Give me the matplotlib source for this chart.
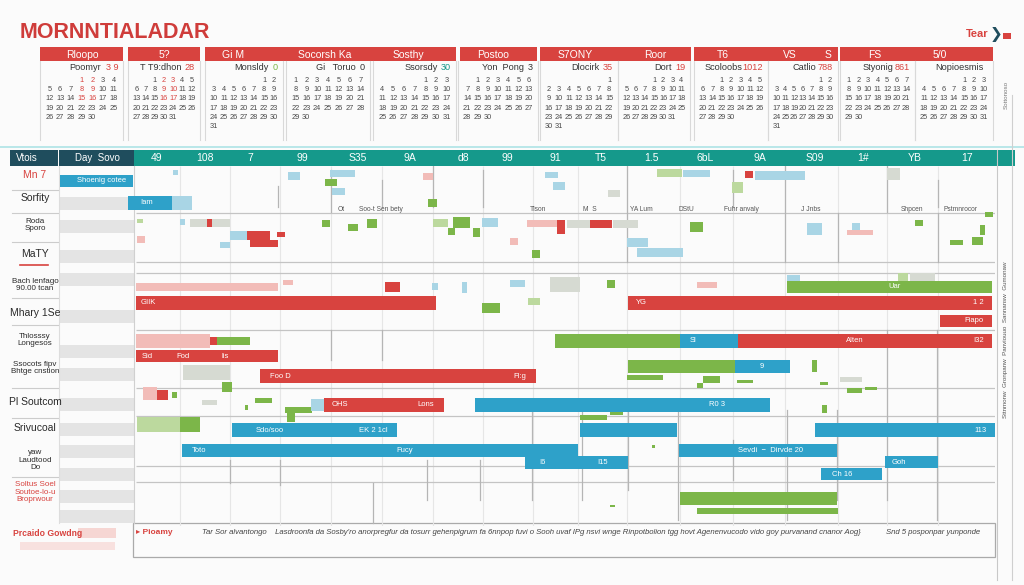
import numpy as np
import matplotlib
matplotlib.use("Agg")
import matplotlib.pyplot as plt
from matplotlib.patches import Rectangle

plt.rcParams['font.family'] = ['Liberation Sans', 'DejaVu Sans']

RED = '#d8433f'
BLUE = '#2ea1c9'
GREEN = '#7cb649'
TEAL = '#15998b'
NAVY = '#1f4d5d'
COLORS = {'r': RED, 'b': BLUE, 'g': GREEN,
          'lr': '#f2bcb8', 'lb': '#a9d5e5', 'lg': '#bcd99e', 'gy': '#d6dad2'}

# ---- data ----
title = "MORNNTIALADAR"

# calendar strip
head_text = ["Rloopo", "5?", "Gi M", "Socorsh Ka", "Sosthy", "Postoo", "S7ONY", "Roor",
             "T6", "VS", "S", "FS", "5/0"]
cal_names = ["Poomyr", "T T9:dhon", "Monsldy", "Gi   Toruo", "Ssorsdy", "Yon  Pong",
             "Dlocirk", "Dort", "Scoloobs", "Catlio", "Styonig", "Nopioesmis"]
cal_nums = ["3 9", "28", "0", "0", "30", "3", "35", "19", "1012", "788", "861", ""]
cal_first = [3, 2, 5, 0, 4, 1, 6, 3, 2, 5, 0, 4]
cal_days = [30, 31, 31, 30, 31, 30, 31, 31, 30, 31, 30, 31]

# column header of the timeline
col_labels = ["49", "108", "7", "99", "S35", "9A", "d8", "99", "91", "T5", "1.5", "6bL",
              "9A", "S09", "1#", "YB", "17"]
col_pos = [2.1, 6.9, 11.4, 16.6, 22.2, 27.4, 32.7, 37.1, 41.9, 46.5, 51.5, 56.9,
           62.4, 67.9, 72.7, 77.9, 83.1]

# row labels
row_labels = ["Mn 7", "Sorfity", "Roda\nSporo", "MaTY", "Bach lenfago\n90.00 tcan",
              "Mhary 1Se", "Thlosssy\nLongesos", "Ssocots fipv\nBhtge cnstion",
              "Pl Soutcom", "Srivucoal", "yaw\nLaudtood\nDo",
              "Soltus Soel\nSoutoe-lo-u\nBroprwour"]
row_lane = [0.9, 3.2, 5.9, 8.8, 11.9, 14.7, 17.4, 20.2, 23.6, 26.2, 29.4, 32.6]
row_color = ['r', 'k', 'k', 'k', 'k', 'k', 'k', 'k', 'k', 'k', 'k', 'r']

# main bars (lane centre, start, end, colour)
bar_lane = [1.5, 3.7, 3.7, 12.1, 12.1, 13.7, 13.7, 15.5, 17.5, 17.5, 17.5, 17.5, 19.0,
            20.0, 20.0, 21.0, 23.9, 23.9, 23.9, 26.4, 26.4, 26.4, 28.4, 28.4, 28.4,
            29.6, 29.6, 30.8, 33.2, 34.5]
bar_start = [-7.6, -0.8, 3.6, 0.0, 65.1, 0.0, 49.2, 80.4, 0.0, 41.9, 54.4, 60.2, 0.0,
             49.2, 59.9, 12.4, 17.5, 18.8, 33.9, 9.6, 44.4, 67.9, 4.6, 34.2, 54.3,
             38.9, 74.9, 68.5, 54.4, 56.1]
bar_end = [-0.3, 3.6, 5.6, 14.2, 85.6, 30.0, 85.6, 85.6, 7.4, 54.4, 60.2, 85.6, 14.2,
           59.9, 65.4, 40.0, 18.8, 30.8, 63.4, 26.1, 54.1, 85.9, 34.2, 44.2, 70.1,
           49.2, 80.2, 74.6, 70.1, 70.2]
bar_col = ['b', 'b', 'lb', 'lr', 'g', 'r', 'r', 'r', 'lr', 'g', 'b', 'r', 'r',
           'g', 'b', 'r', 'lb', 'r', 'b', 'b', 'b', 'b', 'b', 'b', 'b',
           'b', 'b', 'b', 'g', 'g']
bar_h = [1.2, 1.35, 1.35, 0.8, 1.2, 1.4, 1.4, 1.2, 1.35, 1.35, 1.35, 1.35, 1.2,
         1.3, 1.3, 1.4, 1.2, 1.4, 1.4, 1.4, 1.4, 1.4, 1.3, 1.3, 1.3,
         1.3, 1.2, 1.2, 1.3, 0.6]

# text drawn on bars (lane, x, text, align)
tag_lane = [1.5, 3.7, 12.1, 13.7, 13.7, 13.7, 15.5, 17.5, 17.5, 17.5, 19.0, 19.0, 19.0,
            20.0, 21.0, 21.0, 23.9, 23.9, 23.9, 26.4, 26.4, 26.4, 28.4, 28.4, 28.4,
            29.6, 29.6, 29.6, 30.8]
tag_x = [-1.0, 0.4, 75.9, 0.5, 50.0, 84.8, 84.8, 55.4, 71.9, 84.8, 0.6, 4.0, 8.6,
         62.6, 13.4, 39.0, 19.6, 29.8, 58.1, 12.0, 25.2, 85.1, 5.6, 26.9, 63.5,
         40.3, 47.2, 75.6, 69.6]
tag_text = ["Shoenig cotee", "Iam", "Uar", "GIIK", "YG", "1 2", "Fiapo", "Sl", "Alten", "I32",
            "Sid", "Fod", "lis", "9", "Foo D", "Fl:g", "OHS", "Lons", "R0 3",
            "Sdo/soo", "EK 2 1cl", "113", "Toto", "Fucy", "Sevdi  \u2212  Dirvde 20",
            "I6", "I15", "Goh", "Ch 16"]
tag_ha = ['right', 'left', 'center', 'left', 'left', 'right', 'right', 'left', 'center',
          'right', 'left', 'left', 'left', 'center', 'left', 'right', 'left', 'right',
          'center', 'left', 'right', 'right', 'left', 'center', 'center',
          'left', 'right', 'left', 'left']

# small task blocks (x0, x1, y0, y1, colour)
blocks = [
    (3.7, 4.2, 0.4, 0.9, 'lb'), (15.2, 16.4, 0.6, 1.4, 'lb'), (19.4, 21.9, 0.4, 1.1, 'lb'),
    (18.9, 20.1, 1.3, 2.0, 'g'), (19.6, 20.9, 2.2, 2.9, 'lb'), (28.7, 29.7, 0.7, 1.4, 'lr'),
    (29.2, 30.1, 3.3, 4.1, 'g'), (0.1, 0.7, 5.3, 5.7, 'lg'), (4.4, 4.9, 5.3, 5.9, 'lb'),
    (5.4, 9.4, 5.3, 6.1, 'gy'), (7.1, 7.6, 5.3, 6.1, 'r'), (9.4, 12.4, 6.5, 7.4, 'lb'),
    (11.1, 13.4, 6.5, 7.4, 'r'), (11.4, 14.2, 7.4, 8.1, 'r'), (14.1, 14.9, 6.6, 7.1, 'r'),
    (8.4, 9.4, 7.6, 8.2, 'lb'), (0.1, 0.9, 7.0, 7.7, 'lr'), (18.6, 19.4, 5.4, 6.1, 'g'),
    (21.2, 22.2, 5.8, 6.5, 'g'), (23.1, 24.1, 5.3, 6.2, 'g'), (29.7, 31.2, 5.3, 6.1, 'lg'),
    (31.7, 33.4, 5.1, 6.2, 'g'), (31.2, 31.9, 6.2, 6.9, 'g'), (33.7, 34.4, 6.2, 7.1, 'g'),
    (34.6, 36.2, 5.2, 6.1, 'lb'), (24.9, 26.4, 11.6, 12.6, 'r'), (14.7, 15.7, 11.4, 11.9, 'lr'),
    (32.6, 33.1, 11.6, 12.7, 'lb'), (29.6, 30.2, 11.7, 12.4, 'lb'), (34.6, 36.4, 13.7, 14.7, 'g'),
    (40.9, 42.2, 0.6, 1.2, 'lb'), (41.7, 42.9, 1.6, 2.4, 'lb'), (47.2, 48.4, 2.4, 3.1, 'gy'),
    (52.1, 54.6, 0.3, 1.1, 'lg'), (54.7, 57.4, 0.4, 1.1, 'lb'), (60.9, 61.7, 0.5, 1.2, 'r'),
    (61.9, 66.9, 0.5, 1.4, 'lb'), (59.6, 60.7, 1.6, 2.7, 'lg'), (75.1, 76.4, 0.2, 1.4, 'gy'),
    (39.1, 42.9, 5.4, 6.1, 'lr'), (42.1, 42.9, 5.4, 6.8, 'r'), (43.1, 45.4, 5.4, 6.2, 'gy'),
    (45.4, 47.6, 5.4, 6.2, 'r'), (47.7, 50.2, 5.4, 6.2, 'gy'), (55.4, 56.7, 5.6, 6.6, 'g'),
    (37.4, 38.2, 7.2, 7.9, 'lr'), (39.6, 40.4, 8.4, 9.2, 'g'), (49.1, 51.2, 7.2, 8.1, 'lb'),
    (50.1, 54.7, 8.2, 9.1, 'lb'), (67.1, 68.6, 5.7, 6.9, 'lb'), (71.6, 72.4, 5.7, 6.4, 'lb'),
    (71.1, 73.7, 6.4, 6.9, 'lr'), (77.9, 78.7, 5.4, 6.0, 'g'), (84.4, 84.9, 5.9, 6.9, 'g'),
    (81.4, 82.7, 7.4, 7.9, 'g'), (83.6, 84.7, 7.1, 7.9, 'g'), (84.9, 85.7, 4.6, 5.1, 'g'),
    (65.1, 66.4, 10.9, 11.6, 'lb'), (76.2, 77.2, 10.7, 11.6, 'lg'), (77.4, 79.9, 10.7, 11.6, 'gy'),
    (37.4, 38.9, 11.4, 12.1, 'lb'), (41.4, 44.4, 11.1, 12.6, 'gy'), (47.1, 47.9, 11.4, 12.2, 'g'),
    (56.1, 58.1, 11.6, 12.2, 'lr'), (39.2, 40.4, 13.2, 13.9, 'lg'), (7.1, 8.1, 17.1, 17.9, 'r'),
    (8.1, 11.4, 17.1, 17.9, 'g'), (4.7, 9.4, 19.9, 21.4, 'gy'), (8.6, 9.6, 21.6, 22.6, 'g'),
    (0.7, 2.1, 22.1, 23.4, 'lr'), (2.1, 3.2, 22.4, 23.4, 'r'), (3.6, 4.1, 22.6, 23.2, 'g'),
    (6.6, 8.1, 23.4, 23.9, 'gy'), (11.9, 13.6, 23.2, 23.7, 'g'), (10.9, 11.2, 23.9, 24.4, 'g'),
    (14.9, 17.6, 24.1, 24.7, 'g'), (15.1, 15.9, 24.7, 25.6, 'g'), (0.1, 4.4, 25.1, 26.6, 'lg'),
    (4.4, 6.4, 25.1, 26.6, 'g'), (49.1, 52.7, 20.9, 21.4, 'g'), (56.1, 56.7, 21.7, 22.2, 'g'),
    (56.7, 58.4, 21.0, 21.7, 'g'), (60.1, 61.7, 21.4, 21.7, 'g'), (67.6, 68.1, 19.4, 20.6, 'g'),
    (68.4, 69.2, 21.6, 21.9, 'g'), (70.4, 72.6, 21.1, 21.6, 'gy'), (71.1, 72.6, 22.2, 22.7, 'g'),
    (72.9, 74.1, 22.1, 22.4, 'g'), (68.6, 69.1, 23.9, 24.7, 'g'), (44.4, 47.1, 24.9, 25.4, 'g'),
    (47.4, 48.7, 24.4, 24.9, 'g'), (51.6, 51.9, 27.9, 28.2, 'g'), (47.4, 47.9, 33.9, 34.1, 'g'),
]

# grid of the timeline
grid_x = [4.4, 9.4, 14.4, 19.5, 24.6, 29.7, 34.7, 39.7, 44.2, 49.1, 54.4, 59.7,
          64.9, 70.2, 75.1, 80.2]
hline_y = [4.7, 9.6, 10.7, 16.4, 22.2, 25.0, 30.0, 31.6]
vseg = [(14.2, 2.0, 4.1), (24.6, 1.4, 4.1), (29.7, 0.0, 4.1), (34.7, 0.4, 4.1),
        (19.5, 0.4, 4.6), (49.1, 0.0, 4.6), (59.7, 0.4, 4.1), (64.9, 0.0, 4.6),
        (75.1, 0.0, 4.6), (80.2, 1.4, 4.1), (49.1, 4.7, 9.6), (64.9, 4.7, 9.6),
        (70.2, 4.7, 9.6), (80.2, 4.7, 9.6), (19.5, 16.4, 19.4), (24.6, 16.4, 19.4),
        (9.4, 29.4, 31.7), (14.4, 29.4, 31.9), (29.1, 29.4, 33.4), (34.4, 29.4, 33.4),
        (39.6, 24.4, 33.4), (44.6, 24.4, 33.4), (49.2, 24.4, 32.4), (54.2, 24.4, 35.4),
        (59.7, 27.4, 31.4), (65.1, 24.4, 35.4), (70.1, 24.4, 33.4), (75.1, 16.4, 33.4),
        (80.1, 16.4, 35.4), (23.7, 31.7, 35.7)]

small_notes = ["Ot", "Soo-t Sen bety", "Tlson", "M  S", "YA Lum", "DStU", "Fuhr anvaly",
               "J Jnbs", "Shpcen", "Pstmnrocor"]
small_note_x = [20.5, 24.5, 40.2, 45.4, 50.5, 55.0, 60.5, 67.5, 77.6, 82.5]

footer_left = "Prcaido Gowdng"
footer_text = ("Tar Sor alvantongo    Lasdroonfa da Sosby'ro anorpregfur da tosurr gehenpigrum fa "
               "6nnpop fuvi o Sooh uvaf IPg nsvi wnge Rinpotbolion tgg hovt Agenenvucodo vido goy "
               "purvanand cnanor Aog}")
footer_tail = "Snd 5 posponpar yunponde"

# ---- figure ----
fig = plt.figure(figsize=(10.24, 5.85), dpi=100)
bg = fig.add_axes([0, 0, 1, 1])
bg.set_xlim(0, 1024)
bg.set_ylim(585, 0)
bg.axis('off')
fig.patch.set_facecolor('#fbfbfb')

bg.text(20, 33, title, color='#cf3c3a', fontsize=15.5, fontweight='bold', va='center')
bg.text(988, 34, "Tear", color=RED, fontsize=8, fontweight='bold', va='center', ha='right')
bg.text(990, 34, "\u276f", color=NAVY, fontsize=11, va='center', ha='left')

# calendar headers
grp_x0 = [40, 128, 205, 460, 540, 694, 840]
grp_x1 = [123, 200, 456, 537, 691, 838, 993]
for a, b in zip(grp_x0, grp_x1):
    bg.add_patch(Rectangle((a, 47), b - a, 14, color=RED, lw=0))
head_x = [82, 164, 233, 325, 408, 493, 575, 655, 723, 790, 828, 875, 940]
for t, x in zip(head_text, head_x):
    bg.text(x, 54.5, t, color='white', fontsize=7.5, ha='center', va='center')

cal_left = [40, 128, 205, 286, 373, 458, 540, 618, 694, 768, 840, 915]
cal_right = [123, 200, 283, 370, 456, 538, 618, 690, 768, 838, 915, 993]
num_col = [RED, RED, GREEN, '#333333', TEAL, '#333333', RED, RED, RED, RED, RED, RED]
for i in range(len(cal_left)):
    x0, x1 = cal_left[i], cal_right[i]
    bg.plot([x0, x0], [61, 140], color='#d9d9d9', lw=0.8)
    bg.plot([x1, x1], [61, 140], color='#d9d9d9', lw=0.8)
    nx = x1 - 6 - 4.0 * len(cal_nums[i]) - (4 if cal_nums[i] else 0)
    if not cal_nums[i]:
        nx = x1 - 10
    bg.text(nx, 68, cal_names[i], fontsize=6.6, ha='right', va='center', color='#333333')
    bg.text(x1 - 5, 68, cal_nums[i], fontsize=6.6, ha='right', va='center', color=num_col[i])
    cw = (x1 - x0 - 8) / 7.0
    for d in range(cal_days[i]):
        k = d + cal_first[i]
        r, c = divmod(k, 7)
        col = RED if (i < 2 and c in (3, 4) and r < 3) else '#4a4a4a'
        bg.text(x0 + 4 + cw * (c + 0.5), 80 + 9.4 * r, str(d + 1), fontsize=5.3,
                ha='center', va='center', color=col)
bg.plot([0, 1024], [147, 147], color='#aee3e6', lw=1.2)

# timeline header band
bg.add_patch(Rectangle((10, 150), 48, 16, color=NAVY, lw=0))
bg.add_patch(Rectangle((59, 150), 75, 16, color=NAVY, lw=0))
bg.add_patch(Rectangle((134, 150), 881, 16, color=TEAL, lw=0))
bg.text(27, 158, "Vtois", color='white', fontsize=7, ha='center', va='center')
bg.text(97, 158, "Day  Sovo", color='white', fontsize=7, ha='center', va='center')

# left column stripes
stripe_y = [197, 220, 250, 273, 310, 345, 368, 398, 423, 445, 468, 490, 510]
for y in stripe_y:
    bg.add_patch(Rectangle((60, y), 74, 13, color='#e4e4e4', lw=0))
for y in [190, 213, 242, 298, 325, 388, 418, 477]:
    bg.plot([12, 58], [y, y], color='#cccccc', lw=0.8)
bg.plot([59, 59], [166, 523], color='#dddddd', lw=0.8)
bg.plot([134, 134], [166, 523], color='#d0d0d0', lw=0.8)
bg.plot([20, 48], [265, 265], color=RED, lw=1.2)

# right strip
bg.plot([997, 997], [150, 580], color='#c8c8c8', lw=0.8)
bg.plot([1012, 1012], [95, 580], color='#cfcfcf', lw=0.8)
bg.add_patch(Rectangle((1003, 33), 8, 6, color=RED, lw=0))
bg.text(1006, 340, "Sttnmonw  Gronpanw  Panviouuo  Sannansw  Gumonaw", rotation=90,
        fontsize=4.5, color='#555555', ha='center', va='center')
bg.text(1006, 95, "Sottonoso", rotation=90, fontsize=4.5, color='#777777', ha='center',
        va='center')

# footer
bg.add_patch(Rectangle((133, 523), 862, 34, fill=False, ec='#aaaaaa', lw=0.9))
bg.add_patch(Rectangle((78, 528), 38, 10, color='#f6d6d3', lw=0))
bg.add_patch(Rectangle((20, 542), 95, 8, color='#f8e1df', lw=0))
bg.text(13, 533, footer_left, color=RED, fontsize=6.2, fontweight='bold', va='center')
bg.text(136, 533, "\u25b8 Pioamy", color=RED, fontsize=6, fontweight='bold', va='center')
bg.text(202, 533, footer_text, color='#444444', fontsize=5.6, va='center', style='italic')
bg.text(886, 533, footer_tail, color='#444444', fontsize=5.6, va='center', style='italic')

# ---- timeline axes ----
ax = fig.add_axes([136 / 1024, 1 - 526 / 585, 859 / 1024, 360 / 585])
ax.set_xlim(0, 85.9)
ax.set_ylim(36, 0)
ax.patch.set_alpha(0)
ax.axis('off')

ax.vlines(grid_x, 0, 36, color='#e6e6e6', lw=0.8, zorder=0)
ax.hlines(hline_y, 0, 85.9, color='#c4c4c4', lw=0.9, zorder=0)
for x, y0, y1 in vseg:
    ax.plot([x, x], [y0, y1], color='#b5b5b5', lw=0.9, zorder=0.5)

for x, t in zip(small_note_x, small_notes):
    ax.text(x, 4.35, t, fontsize=4.8, color='#555555', ha='center', va='center')

for x0, x1, y0, y1, c in blocks:
    ax.barh((y0 + y1) / 2, x1 - x0, left=x0, height=y1 - y0, color=COLORS[c], lw=0, zorder=1)

for i in range(len(bar_lane)):
    ax.barh(bar_lane[i], bar_end[i] - bar_start[i], left=bar_start[i], height=bar_h[i],
            color=COLORS[bar_col[i]], lw=0, zorder=2, clip_on=False)

for y, x, t, ha in zip(tag_lane, tag_x, tag_text, tag_ha):
    ax.text(x, y, t, color='white', fontsize=5.5, ha=ha, va='center', zorder=3, clip_on=False)

for x, t in zip(col_pos, col_labels):
    ax.text(x, -0.8, t, color='white', fontsize=7.5, ha='center', va='center', clip_on=False)

for t, y, c in zip(row_labels, row_lane, row_color):
    ax.text(-10.1, y, t, color=RED if c == 'r' else '#2a2a2a',
            fontsize=7.5 if '\n' not in t else 5.8, ha='center', va='center',
            clip_on=False, linespacing=1.1)

fig.savefig('out.png', dpi=100, facecolor=fig.get_facecolor())
